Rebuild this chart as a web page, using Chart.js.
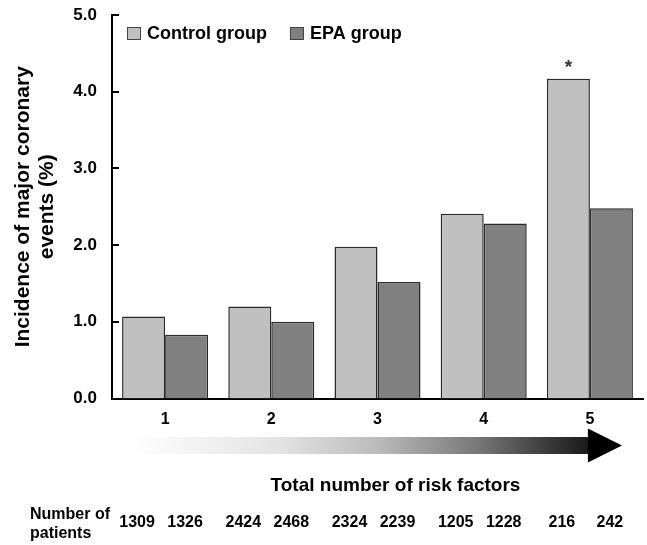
<!DOCTYPE html>
<html><head><meta charset="utf-8">
<script src="https://cdn.jsdelivr.net/npm/chart.js@4.4.1/dist/chart.umd.min.js"></script>
<style>html,body{margin:0;padding:0;background:#fff;}#wrap{width:647px;height:545px;}</style>
</head><body><div id="wrap"><canvas id="c" width="647" height="545"></canvas></div>
<script>
const categories = ['1', '2', '3', '4', '5'];
const seriesNames = ['Control group', 'EPA group'];
const controlValues = [1.07, 1.20, 1.98, 2.41, 4.17];
const epaValues = [0.83, 1.00, 1.52, 2.28, 2.48];
const significance = ['', '', '', '', '*'];
const controlPatients = [1309, 2424, 2324, 1205, 216];
const epaPatients = [1326, 2468, 2239, 1228, 242];
const yTickValues = [0, 1, 2, 3, 4, 5];
const yTitle = ['Incidence of major coronary', 'events (%)'];
const xTitle = 'Total number of risk factors';
const patientsLabel = ['Number of', 'patients'];

const FONT = "'Liberation Sans', Arial, Helvetica, sans-serif";
const seriesColors = ['#c0c0c0', '#808080'];

const extras = {
  id: 'extras',
  afterDraw(chart) {
    const ctx = chart.ctx;
    const area = chart.chartArea;
    const xs = chart.scales.x, ys = chart.scales.y;
    ctx.save();
    // inward y ticks
    ctx.strokeStyle = '#000';
    ctx.lineWidth = 2;
    yTickValues.forEach(v => {
      const y = Math.round(ys.getPixelForValue(v));
      ctx.beginPath();
      ctx.moveTo(area.left, y);
      ctx.lineTo(area.left + 7, y);
      ctx.stroke();
    });
    // legend
    ctx.font = 'bold 18px ' + FONT;
    ctx.textBaseline = 'middle';
    ctx.textAlign = 'left';
    let lx = area.left + 15;
    const ly = area.top + 12;
    chart.data.datasets.forEach((ds, i) => {
      ctx.fillStyle = ds.backgroundColor;
      ctx.fillRect(lx, ly, 14, 13);
      ctx.strokeStyle = '#444';
      ctx.lineWidth = 1;
      ctx.strokeRect(lx + 0.5, ly + 0.5, 13, 12);
      ctx.fillStyle = '#000';
      ctx.fillText(ds.label, lx + 20, ly + 7);
      lx += 20 + ctx.measureText(ds.label).width + 23;
    });
    // significance marks
    const meta0 = chart.getDatasetMeta(0);
    ctx.font = 'bold 19px ' + FONT;
    ctx.fillStyle = '#333';
    ctx.textAlign = 'center';
    significance.forEach((s, i) => {
      if (!s) return;
      const el = meta0.data[i];
      ctx.fillText(s, el.x, el.y - 11);
    });
    // gradient arrow
    const x0 = area.left + 18;
    const headBase = xs.getPixelForValue(4) - 2;
    const tip = area.right - 21;
    const yc = area.bottom + 47;
    const grad = ctx.createLinearGradient(x0, 0, tip, 0);
    grad.addColorStop(0, '#ffffff');
    grad.addColorStop(0.3, '#e4e4e4');
    grad.addColorStop(0.5, '#bcbcbc');
    grad.addColorStop(0.7, '#7a7a7a');
    grad.addColorStop(0.85, '#3a3a3a');
    grad.addColorStop(1, '#000000');
    ctx.fillStyle = grad;
    ctx.fillRect(x0, yc - 8.5, headBase - x0 + 1, 17);
    ctx.fillStyle = '#000';
    ctx.beginPath();
    ctx.moveTo(headBase, yc - 17);
    ctx.lineTo(tip, yc);
    ctx.lineTo(headBase, yc + 17);
    ctx.closePath();
    ctx.fill();
    // x title
    ctx.font = 'bold 19px ' + FONT;
    ctx.fillStyle = '#000';
    ctx.textAlign = 'center';
    ctx.fillText(xTitle, (xs.getPixelForValue(0) + xs.getPixelForValue(4)) / 2 + 18, area.bottom + 87);
    // patients
    ctx.font = 'bold 16px ' + FONT;
    ctx.textAlign = 'left';
    ctx.fillText(patientsLabel[0], 30, area.bottom + 116);
    ctx.fillText(patientsLabel[1], 30, area.bottom + 135);
    ctx.textAlign = 'center';
    categories.forEach((c, i) => {
      const cx = xs.getPixelForValue(i);
      ctx.fillText(String(controlPatients[i]), cx - 28, area.bottom + 124);
      ctx.fillText(String(epaPatients[i]), cx + 20, area.bottom + 124);
    });
    ctx.restore();
  }
};

new Chart(document.getElementById('c'), {
  type: 'bar',
  data: {
    labels: categories,
    datasets: [
      { label: seriesNames[0], data: controlValues, backgroundColor: seriesColors[0], borderColor: '#2a2a2a', borderWidth: 1.5 },
      { label: seriesNames[1], data: epaValues, backgroundColor: seriesColors[1], borderColor: '#2a2a2a', borderWidth: 1.5 }
    ]
  },
  options: {
    responsive: false,
    animation: false,
    devicePixelRatio: 1,
    layout: { padding: { left: 0, top: 15, right: 4, bottom: 0 } },
    datasets: { bar: { categoryPercentage: 0.81, barPercentage: 1.0 } },
    plugins: { legend: { display: false }, tooltip: { enabled: false } },
    scales: {
      x: {
        grid: { display: false, drawTicks: false },
        border: { display: true, color: '#000', width: 2 },
        ticks: { color: '#000', font: { family: FONT, size: 16, weight: 'bold' }, padding: 11 },
        afterFit(scale) { scale.height = 146.5; scale.paddingLeft = 0; scale.paddingRight = 0; }
      },
      y: {
        min: 0, max: 5,
        grid: { display: false, drawTicks: false },
        border: { display: true, color: '#000', width: 2 },
        afterBuildTicks(scale) { scale.ticks = yTickValues.map(v => ({ value: v })); },
        ticks: { color: '#000', font: { family: FONT, size: 17, weight: 'bold' }, padding: 15,
          callback: v => Number(v).toFixed(1) },
        title: { display: true, text: yTitle, color: '#000', padding: { top: 11, bottom: 0 },
          font: { family: FONT, size: 21, weight: 'bold', lineHeight: 1.15 } },
        afterFit(scale) { scale.width = 112; scale.paddingTop = 0; scale.paddingBottom = 0; }
      }
    }
  },
  plugins: [extras]
});
</script></body></html>
